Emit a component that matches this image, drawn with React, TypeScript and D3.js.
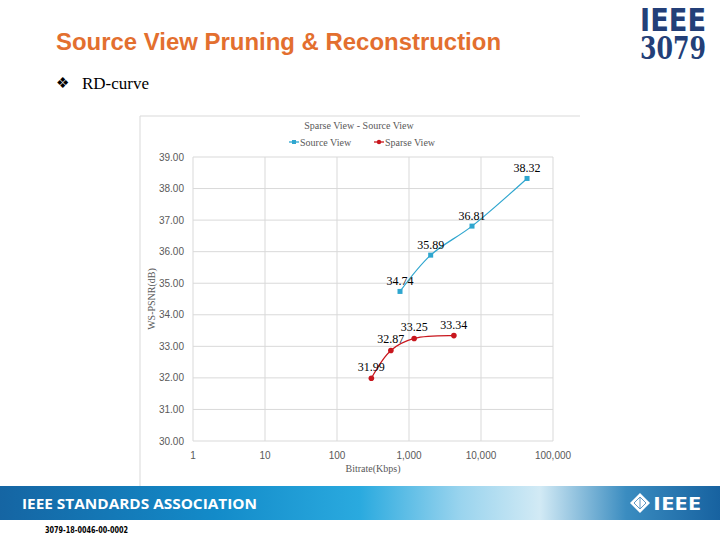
import React from 'react';
import * as d3 from 'd3';

// RD-curve data
const bitrateSource = [750, 2000, 7500, 43600];
const psnrSource = [34.74, 35.89, 36.81, 38.32];
const bitrateSparse = [300, 560, 1180, 4200];
const psnrSparse = [31.99, 32.87, 33.25, 33.34];

const xTicks = [1, 10, 100, 1000, 10000, 100000];
const yTicks = [30, 31, 32, 33, 34, 35, 36, 37, 38, 39];

const seriesNames = ['Source View', 'Sparse View'];
const sourceColor = '#2fa6cf';
const sparseColor = '#c8161d';
const gridColor = '#d9d9d9';
const axisText = '#595959';

const App = () => {
    const x = d3.scaleLog().domain([1, 100000]).range([193, 553]);
    const y = d3.scaleLinear().domain([30, 39]).range([441, 157]);

    const line = d3.line<[number, number]>()
        .x(d => x(d[0]))
        .y(d => y(d[1]))
        .curve(d3.curveCatmullRom.alpha(0.5));

    const src = bitrateSource.map((b, i) => [b, psnrSource[i]] as [number, number]);
    const spr = bitrateSparse.map((b, i) => [b, psnrSparse[i]] as [number, number]);
    const fmt = d3.format(',');

    return (
        <svg width={720} height={540} style={{ position: 'absolute', left: 0, top: 0, background: '#fff' }}>
            <defs>
                <linearGradient id="banner" x1="0" x2="720" y1="0" y2="0" gradientUnits="userSpaceOnUse">
                    <stop offset="0" stopColor="#1565a3" />
                    <stop offset="0.3" stopColor="#138bc9" />
                    <stop offset="0.5" stopColor="#2aaadf" />
                    <stop offset="0.64" stopColor="#9ad4ee" />
                    <stop offset="0.75" stopColor="#d2eaf5" />
                    <stop offset="0.87" stopColor="#3a8cc0" />
                    <stop offset="1" stopColor="#1762a0" />
                </linearGradient>
            </defs>

            {/* slide header */}
            <text x={56} y={50} fontFamily="Liberation Sans, Arial, sans-serif" fontWeight="bold"
                fontSize={23} fill="#e36f2f" textLength={445} lengthAdjust="spacingAndGlyphs">Source View Pruning &amp; Reconstruction</text>
            <text x={56} y={88} fontFamily="DejaVu Sans" fontSize={15} fill="#000">❖</text>
            <text x={82} y={89} fontFamily="Liberation Serif, serif" fontSize={17} fill="#000">RD-curve</text>

            <text x={640} y={31} fontFamily="Liberation Sans Narrow, DejaVu Sans Condensed, sans-serif" fontWeight="bold"
                fontSize={32} fill="#233f78" textLength={66} lengthAdjust="spacingAndGlyphs">IEEE</text>
            <text x={640} y={59} fontFamily="DejaVu Serif Condensed, DejaVu Serif, serif" fontWeight="bold"
                fontSize={31} fill="#233f78" textLength={66} lengthAdjust="spacingAndGlyphs">3079</text>

            {/* chart frame */}
            <line x1={140} x2={580} y1={116} y2={116} stroke={gridColor} />
            <line x1={140} x2={140} y1={116} y2={486} stroke={gridColor} />

            <text x={359} y={129} textAnchor="middle" fontFamily="Liberation Serif, serif" fontSize={10}
                fill={axisText}>Sparse View - Source View</text>

            {/* legend */}
            <g fontFamily="Liberation Serif, serif" fontSize={10} fill={axisText}>
                <line x1={289} x2={299} y1={142} y2={142} stroke={sourceColor} strokeWidth={1.3} />
                <rect x={292} y={140} width={4} height={4} fill={sourceColor} />
                <text x={300} y={145.5}>{seriesNames[0]}</text>
                <line x1={374} x2={384} y1={142} y2={142} stroke={sparseColor} strokeWidth={1.3} />
                <circle cx={379} cy={142} r={2.2} fill={sparseColor} />
                <text x={385} y={145.5}>{seriesNames[1]}</text>
            </g>

            {/* grid */}
            {yTicks.map(t => (
                <line key={'h' + t} x1={193} x2={553} y1={y(t)} y2={y(t)} stroke={gridColor} />
            ))}
            {xTicks.map(t => (
                <line key={'v' + t} x1={x(t)} x2={x(t)} y1={157} y2={441} stroke={gridColor} />
            ))}

            {/* tick labels */}
            <g fontFamily="Liberation Sans, Arial, sans-serif" fontSize={10} fill={axisText}>
                {yTicks.map(t => (
                    <text key={'yl' + t} x={184} y={y(t) + 3.5} textAnchor="end">{t.toFixed(2)}</text>
                ))}
                {xTicks.map(t => (
                    <text key={'xl' + t} x={x(t)} y={459} textAnchor="middle">{fmt(t)}</text>
                ))}
            </g>

            <text x={373} y={472} textAnchor="middle" fontFamily="Liberation Serif, serif" fontSize={10}
                fill={axisText}>Bitrate(Kbps)</text>
            <text transform={`translate(155 ${(157 + 441) / 2}) rotate(-90)`} textAnchor="middle"
                fontFamily="Liberation Serif, serif" fontSize={10} fill={axisText}>WS-PSNR(dB)</text>

            {/* series */}
            <path d={line(src) || ''} fill="none" stroke={sourceColor} strokeWidth={1.2} />
            {src.map((d, i) => (
                <rect key={'sm' + i} x={x(d[0]) - 2.5} y={y(d[1]) - 2.5} width={5} height={5} fill={sourceColor} />
            ))}
            <path d={line(spr) || ''} fill="none" stroke={sparseColor} strokeWidth={1.2} />
            {spr.map((d, i) => (
                <circle key={'pm' + i} cx={x(d[0])} cy={y(d[1])} r={2.8} fill={sparseColor} />
            ))}

            {/* data labels */}
            <g fontFamily="Liberation Serif, serif" fontSize={12} fill="#000" textAnchor="middle">
                {src.map((d, i) => (
                    <text key={'sl' + i} x={x(d[0])} y={y(d[1]) - 6}>{d[1].toFixed(2)}</text>
                ))}
                {spr.map((d, i) => (
                    <text key={'pl' + i} x={x(d[0])} y={y(d[1]) - 7}>{d[1].toFixed(2)}</text>
                ))}
            </g>

            {/* footer banner */}
            <rect x={0} y={486} width={720} height={34} fill="url(#banner)" />
            <text x={22} y={509} fontFamily="Open Sans, sans-serif" fontWeight="bold" fontSize={15}
                fill="#fff" textLength={235} lengthAdjust="spacingAndGlyphs">IEEE STANDARDS ASSOCIATION</text>
            <g transform="translate(640 503)">
                <polygon points="0,-10 10,0 0,10 -10,0" fill="#fff" />
                <polygon points="0,-6 6,0 0,6 -6,0" fill="none" stroke="#3b7fb4" strokeWidth={0.8} />
                <line x1={0} x2={0} y1={-5} y2={5} stroke="#3b7fb4" strokeWidth={0.8} />
            </g>
            <text x={653} y={510} fontFamily="Open Sans, sans-serif" fontWeight="bold" fontSize={18}
                fill="#fff" textLength={48} lengthAdjust="spacingAndGlyphs">IEEE</text>

            <text x={45} y={533} fontFamily="Liberation Sans Narrow, DejaVu Sans Condensed, sans-serif" fontWeight="bold"
                fontSize={8} fill="#000" textLength={83} lengthAdjust="spacingAndGlyphs">3079-18-0046-00-0002</text>
        </svg>
    );
};

export default App;
